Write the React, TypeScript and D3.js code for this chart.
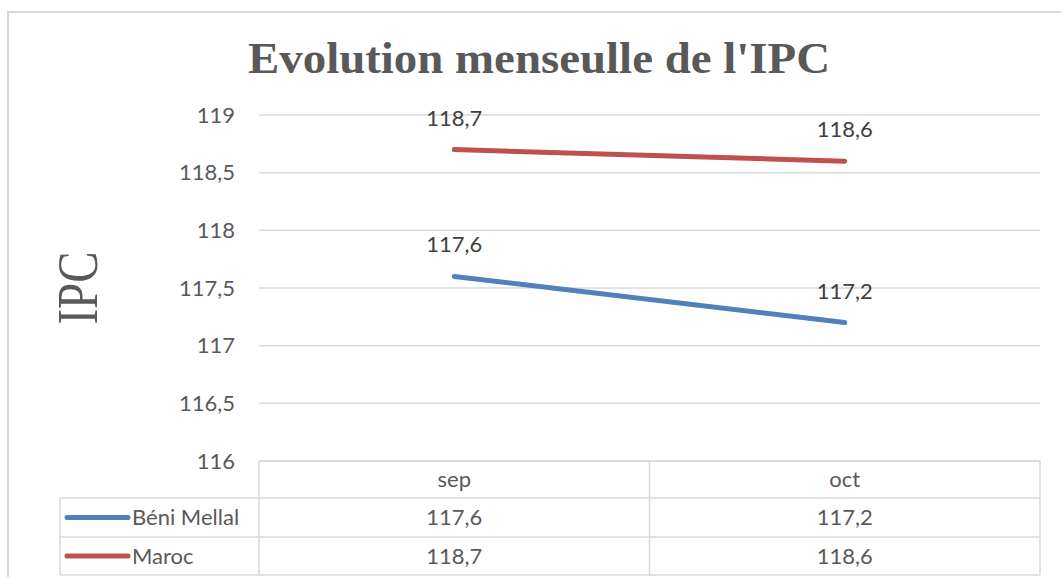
import React from 'react'
import * as d3 from 'd3'

const months = ['sep', 'oct']
const beniMellal = [117.6, 117.2]
const maroc = [118.7, 118.6]
const yTicks = [116, 116.5, 117, 117.5, 118, 118.5, 119]

const series = [
  { name: 'Béni Mellal', values: beniMellal, color: '#4f81bd' },
  { name: 'Maroc', values: maroc, color: '#c0504d' },
]

const W = 1061
const H = 577
const grid = '#d9d9d9'
const txt = '#595959'
const sans = 'Lato, "Open Sans", sans-serif'
const fs = 22

const fmt = (v: number) => String(v).replace('.', ',')

export default function App() {
  const x = d3.scaleBand().domain(months).range([259, 1040])
  const y = d3.scaleLinear().domain([116, 119]).range([461, 115])
  const cx = (m: string) => (x(m) ?? 0) + x.bandwidth() / 2
  const line = d3.line<[string, number]>().x(d => cx(d[0])).y(d => y(d[1]))

  const rowY = [461, 498, 537, 575]
  const legendLeft = 60

  return (
    <svg width={W} height={H} style={{ position: 'absolute', left: 0, top: 0, display: 'block', background: '#fff' }}>
      {/* frame */}
      <path d={`M8,${H} V12 H${W}`} fill="none" stroke={grid} strokeWidth={2} />

      <text x={539} y={73} textAnchor="middle" fontFamily='"Liberation Serif", "Times New Roman", serif'
        fontWeight="bold" fontSize={45} fill={txt} textLength={582} lengthAdjust="spacingAndGlyphs">
        Evolution menseulle de l'IPC
      </text>

      <text transform="translate(97,288) rotate(-90)" textAnchor="middle"
        fontFamily='"Liberation Serif", "Times New Roman", serif' fontSize={56} fill={txt}
        textLength={73} lengthAdjust="spacingAndGlyphs">IPC</text>

      {/* grid + y ticks */}
      {yTicks.map(t => (
        <g key={t}>
          <line x1={259} x2={1040} y1={y(t)} y2={y(t)} stroke={grid} strokeWidth={1.5} />
          <text x={235} y={y(t)} dy="0.35em" textAnchor="end" fontFamily={sans} fontSize={fs} fill={txt}>{fmt(t)}</text>
        </g>
      ))}

      {/* lines */}
      {series.map(s => (
        <path key={s.name} d={line(months.map((m, i) => [m, s.values[i]] as [string, number])) ?? ''}
          fill="none" stroke={s.color} strokeWidth={5} strokeLinecap="round" />
      ))}

      {/* data labels */}
      {series.map(s => months.map((m, i) => (
        <text key={s.name + m} x={cx(m)} y={y(s.values[i]) - 24} textAnchor="middle"
          fontFamily={sans} fontSize={fs} fill="#404040">{fmt(s.values[i])}</text>
      )))}

      {/* data table */}
      <g stroke={grid} strokeWidth={1.5} fill="none">
        <line x1={259} x2={1040} y1={rowY[0]} y2={rowY[0]} />
        {rowY.slice(1).map(r => <line key={r} x1={legendLeft} x2={1040} y1={r} y2={r} />)}
        <line x1={legendLeft} x2={legendLeft} y1={rowY[1]} y2={rowY[3]} />
        {[...months.map(m => x(m) ?? 0), 1040].map(v => (
          <line key={v} x1={v} x2={v} y1={rowY[0]} y2={rowY[3]} />
        ))}
      </g>
      {months.map(m => (
        <text key={m} x={cx(m)} y={(rowY[0] + rowY[1]) / 2} dy="0.35em" textAnchor="middle"
          fontFamily={sans} fontSize={fs} fill={txt}>{m}</text>
      ))}
      {series.map((s, r) => {
        const ry = (rowY[r + 1] + rowY[r + 2]) / 2
        return (
          <g key={s.name}>
            <line x1={67} x2={128} y1={ry} y2={ry} stroke={s.color} strokeWidth={5} strokeLinecap="round" />
            <text x={132} y={ry} dy="0.35em" fontFamily={sans} fontSize={fs} fill={txt}>{s.name}</text>
            {months.map((m, i) => (
              <text key={m} x={cx(m)} y={ry} dy="0.35em" textAnchor="middle"
                fontFamily={sans} fontSize={fs} fill={txt}>{fmt(s.values[i])}</text>
            ))}
          </g>
        )
      })}
    </svg>
  )
}
